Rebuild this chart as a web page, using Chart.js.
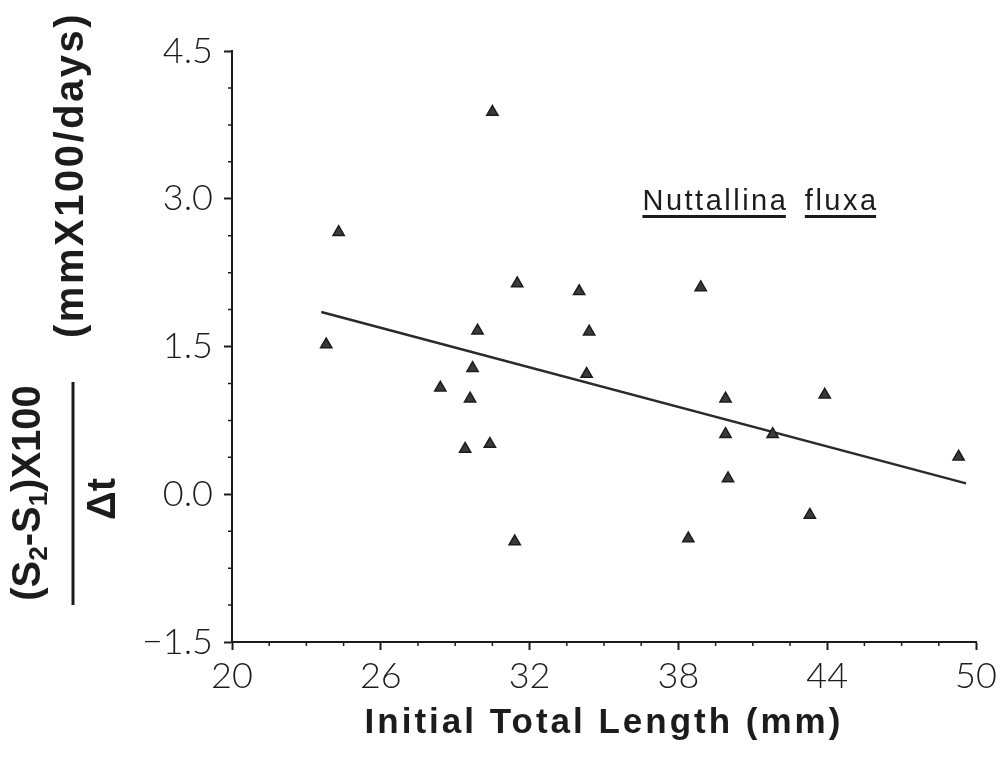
<!DOCTYPE html>
<html>
<head>
<meta charset="utf-8">
<title>Nuttallina fluxa growth</title>
<script src="https://cdn.jsdelivr.net/npm/chart.js@4.4.0/dist/chart.umd.min.js"></script>
<style>
    html, body { margin: 0; padding: 0; background: #fff; }
    #wrap { width: 1004px; height: 757px; }
</style>
</head>
<body>
<div id="wrap"><canvas id="growthChart" width="1004" height="757"></canvas></div>
<script>
// Initial total length (mm) and growth rate for each animal
const lengthMm   = [23.8, 24.3, 28.4, 29.4, 29.6, 29.7, 29.9, 30.4, 30.5, 31.4, 31.5, 34.0,
                    34.3, 34.4, 38.4, 38.9, 39.9, 39.9, 40.0, 41.8, 43.3, 43.9, 49.3];
const growthRate = [1.52, 2.66, 1.08, 0.46, 0.97, 1.28, 1.66, 0.51, 3.88, -0.48, 2.14, 2.06,
                    1.22, 1.65, -0.45, 2.10, 0.97, 0.61, 0.16, 0.61, -0.21, 1.01, 0.38];

// Least-squares line end points
const fitX = [23.6, 49.6];
const fitY = [1.85, 0.11];

// Axis ticks
const xTicks = [20, 26, 32, 38, 44, 50];
const yTicks = [-1.5, 0, 1.5, 3.0, 4.5];
const xMinorStep = 1.5;
const yMinorStep = 0.375;

const INK = '#1c1c1c';
const tickFont = { family: 'Lato, "DejaVu Sans", sans-serif', size: 36, weight: '300' };

// short minor ticks between the labelled ones
const minorTicks = {
    id: 'minorTicks',
    afterDraw(chart) {
        const ctx = chart.ctx;
        const xs = chart.scales.x, ys = chart.scales.y;
        const area = chart.chartArea;
        ctx.save();
        ctx.strokeStyle = INK;
        ctx.lineWidth = 1.5;
        ctx.beginPath();
        for (let v = xs.min; v <= xs.max + 1e-6; v += xMinorStep) {
            if (xTicks.some(t => Math.abs(t - v) < 1e-6)) continue;
            const px = xs.getPixelForValue(v);
            ctx.moveTo(px, area.bottom);
            ctx.lineTo(px, area.bottom + 4);
        }
        for (let v = ys.min; v <= ys.max + 1e-6; v += yMinorStep) {
            if (yTicks.some(t => Math.abs(t - v) < 1e-6)) continue;
            const py = ys.getPixelForValue(v);
            ctx.moveTo(area.left, py);
            ctx.lineTo(area.left - 4, py);
        }
        ctx.stroke();
        ctx.restore();
    }
};

function rotatedText(ctx, text, cx, cy, font, spacing) {
    ctx.save();
    ctx.translate(cx, cy);
    ctx.rotate(-Math.PI / 2);
    ctx.font = font;
    ctx.letterSpacing = spacing || '0px';
    ctx.textAlign = 'center';
    ctx.textBaseline = 'middle';
    ctx.fillText(text, 0, 0);
    ctx.restore();
}

// axis titles, the fraction on the y axis and the species name
const labels = {
    id: 'labels',
    afterDraw(chart) {
        const ctx = chart.ctx;
        const xs = chart.scales.x, ys = chart.scales.y;
        ctx.save();
        ctx.fillStyle = INK;
        ctx.strokeStyle = INK;

        // x axis title
        ctx.font = 'bold 35px "Liberation Sans", Arial, sans-serif';
        ctx.letterSpacing = '3px';
        ctx.textAlign = 'center';
        ctx.textBaseline = 'middle';
        ctx.fillText('Initial Total Length (mm)', 604, 723);
        ctx.letterSpacing = '0px';

        // y axis: units
        rotatedText(ctx, '(mmX100/days)', 72, 175, 'bold 40px "Liberation Sans", Arial, sans-serif', '2.5px');

        // y axis: numerator with subscripts
        const big = 'bold 40px "Liberation Sans", Arial, sans-serif';
        const small = 'bold 26px "Liberation Sans", Arial, sans-serif';
        const parts = [['(S', false], ['2', true], ['-S', false], ['1', true], [')X100', false]];
        ctx.save();
        ctx.translate(29, 493);
        ctx.rotate(-Math.PI / 2);
        ctx.textBaseline = 'middle';
        ctx.textAlign = 'left';
        let total = 0;
        parts.forEach(p => { ctx.font = p[1] ? small : big; total += ctx.measureText(p[0]).width; });
        let pos = -total / 2;
        parts.forEach(p => {
            ctx.font = p[1] ? small : big;
            ctx.fillText(p[0], pos, p[1] ? 11 : 0);
            pos += ctx.measureText(p[0]).width;
        });
        ctx.restore();

        // fraction bar and denominator
        ctx.lineWidth = 3;
        ctx.beginPath();
        ctx.moveTo(73, 382);
        ctx.lineTo(73, 605);
        ctx.stroke();
        rotatedText(ctx, '\u0394t', 104, 499, 'bold 40px "Liberation Sans", Arial, sans-serif');

        // species name, underlined word by word
        ctx.font = '29px "Liberation Sans", Arial, sans-serif';
        ctx.letterSpacing = '2.5px';
        ctx.textAlign = 'left';
        ctx.textBaseline = 'alphabetic';
        const bx = xs.getPixelForValue(36.55);
        const by = ys.getPixelForValue(2.885);
        const words = ['Nuttallina', 'fluxa'];
        let wx = bx;
        ctx.lineWidth = 3;
        words.forEach(w => {
            const wWidth = ctx.measureText(w).width - 2.5;
            ctx.fillText(w, wx, by);
            ctx.beginPath();
            ctx.moveTo(wx, by + 6.5);
            ctx.lineTo(wx + wWidth, by + 6.5);
            ctx.stroke();
            wx += wWidth + 19;
        });
        ctx.restore();
    }
};

const ctxGrowth = document.getElementById('growthChart').getContext('2d');
new Chart(ctxGrowth, {
    type: 'scatter',
    data: {
        datasets: [{
            label: 'Growth',
            data: lengthMm.map((x, i) => ({ x: x, y: growthRate[i] })),
            pointStyle: 'triangle',
            pointRadius: 6.5,
            backgroundColor: '#3a3a3a',
            borderColor: INK,
            borderWidth: 1.5
        }, {
            label: 'Fit',
            type: 'line',
            data: fitX.map((x, i) => ({ x: x, y: fitY[i] })),
            borderColor: '#2a2a2a',
            borderWidth: 2.5,
            pointRadius: 0,
            fill: false
        }]
    },
    options: {
        responsive: false,
        animation: false,
        layout: { padding: { left: 0, top: 51, right: 28, bottom: 0 } },
        plugins: {
            legend: { display: false },
            tooltip: { enabled: false }
        },
        scales: {
            x: {
                type: 'linear',
                min: 20,
                max: 50,
                afterBuildTicks: scale => { scale.ticks = xTicks.map(v => ({ value: v })); },
                afterFit: scale => { scale.height = 115; },
                ticks: { color: INK, font: tickFont, padding: 5, maxRotation: 0,
                         callback: v => String(v) },
                grid: { drawOnChartArea: false, drawTicks: true, tickLength: 8,
                        tickWidth: 2, tickColor: INK },
                border: { display: true, color: INK, width: 2 }
            },
            y: {
                type: 'linear',
                min: -1.5,
                max: 4.5,
                afterBuildTicks: scale => { scale.ticks = yTicks.map(v => ({ value: v })); },
                afterFit: scale => { scale.width = 232; },
                ticks: { color: INK, font: tickFont, padding: 11,
                         callback: v => (v < 0 ? '\u2212' : '') + Math.abs(v).toFixed(1) },
                grid: { drawOnChartArea: false, drawTicks: true, tickLength: 8,
                        tickWidth: 2, tickColor: INK },
                border: { display: true, color: INK, width: 2 }
            }
        }
    },
    plugins: [minorTicks, labels]
});
</script>
</body>
</html>
